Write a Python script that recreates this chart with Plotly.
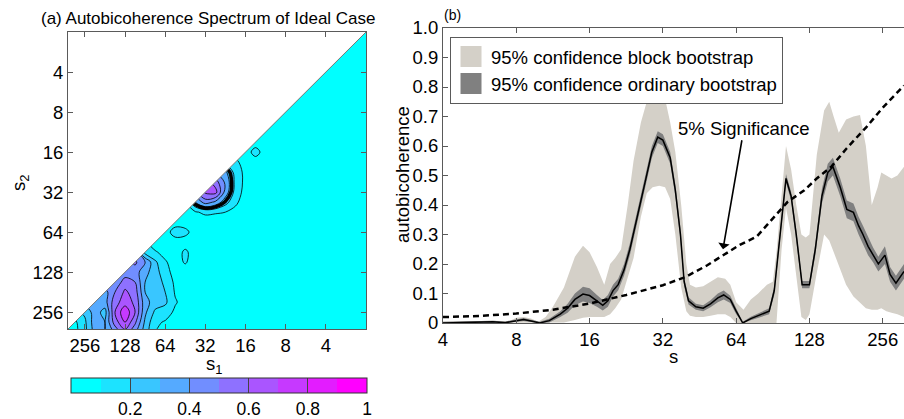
import numpy as np
import plotly.graph_objects as go

# ---------------- Panel (b): autobicoherence along the diagonal ----------------
# x positions are read as log2(scale) exponents
mean_exp = [2.0, 2.3, 2.5, 2.68, 2.85, 3.0, 3.1, 3.2, 3.32, 3.45, 3.6, 3.7, 3.8, 3.91,
            4.0, 4.1, 4.18, 4.25, 4.32, 4.39, 4.47, 4.55, 4.62, 4.7, 4.76, 4.85, 4.93,
            5.0, 5.1, 5.17, 5.24, 5.29, 5.35, 5.45, 5.55, 5.65, 5.75, 5.83, 5.92,
            6.0, 6.09, 6.2, 6.35, 6.45, 6.52, 6.6, 6.68, 6.75, 6.82, 6.9,
            7.0, 7.08, 7.17, 7.25, 7.32, 7.42, 7.51, 7.6, 7.67, 7.73, 7.8, 7.87, 7.94,
            8.03, 8.1, 8.18, 8.22, 8.29]
mean_val = [0.0, 0.001, 0.002, 0.004, 0.001, 0.008, 0.012, 0.007, 0.0, 0.008, 0.03, 0.05, 0.08, 0.098,
            0.093, 0.075, 0.06, 0.075, 0.11, 0.13, 0.18, 0.25, 0.33, 0.42, 0.48, 0.58, 0.63,
            0.62, 0.56, 0.45, 0.3, 0.14, 0.075, 0.055, 0.05, 0.065, 0.085, 0.095, 0.08,
            0.04, 0.0, 0.015, 0.03, 0.04, 0.11, 0.3, 0.49, 0.43, 0.3, 0.13,
            0.13, 0.25, 0.43, 0.51, 0.53, 0.46, 0.385, 0.375, 0.33, 0.3, 0.26, 0.23, 0.2,
            0.23, 0.165, 0.135, 0.15, 0.175]
ord_lo = [0.0, 0.0, 0.0, 0.0, 0.0, 0.004, 0.007, 0.003, 0.0, 0.002, 0.02, 0.035, 0.06, 0.073,
          0.068, 0.055, 0.042, 0.055, 0.09, 0.11, 0.16, 0.23, 0.31, 0.4, 0.46, 0.56, 0.61,
          0.6, 0.54, 0.43, 0.28, 0.125, 0.063, 0.045, 0.04, 0.053, 0.07, 0.08, 0.068,
          0.03, 0.0, 0.009, 0.022, 0.03, 0.095, 0.285, 0.475, 0.415, 0.285, 0.118,
          0.118, 0.23, 0.405, 0.48, 0.5, 0.43, 0.355, 0.345, 0.3, 0.27, 0.23, 0.205, 0.175,
          0.2, 0.14, 0.11, 0.125, 0.15]
ord_hi = [0.004, 0.005, 0.006, 0.008, 0.005, 0.012, 0.017, 0.011, 0.004, 0.014, 0.04, 0.065, 0.1, 0.123,
          0.118, 0.095, 0.078, 0.095, 0.13, 0.15, 0.2, 0.27, 0.35, 0.44, 0.5, 0.6, 0.65,
          0.64, 0.58, 0.47, 0.32, 0.155, 0.087, 0.065, 0.06, 0.077, 0.1, 0.11, 0.092,
          0.05, 0.004, 0.021, 0.038, 0.05, 0.125, 0.315, 0.505, 0.445, 0.315, 0.142,
          0.142, 0.27, 0.455, 0.54, 0.56, 0.49, 0.415, 0.405, 0.36, 0.33, 0.29, 0.255, 0.225,
          0.26, 0.19, 0.16, 0.175, 0.2]

block_exp = [2.0, 2.5, 2.7, 2.9, 3.0, 3.1, 3.2, 3.3, 3.4, 3.5, 3.65, 3.8, 3.91,
             4.0, 4.1, 4.2, 4.28, 4.35, 4.43, 4.52, 4.6, 4.7, 4.78, 4.86, 4.95,
             5.03, 5.1, 5.17, 5.25, 5.32, 5.37, 5.45, 5.55, 5.65, 5.75, 5.85, 5.92,
             6.0, 6.1, 6.2, 6.3, 6.42, 6.5, 6.55, 6.62, 6.68, 6.75, 6.82, 6.89, 6.95,
             7.0, 7.1, 7.2, 7.27, 7.33, 7.4, 7.5, 7.6, 7.69, 7.77, 7.85, 7.93, 7.98,
             8.05, 8.12, 8.2, 8.29]
block_hi = [0.004, 0.006, 0.008, 0.006, 0.018, 0.02, 0.015, 0.004, 0.02, 0.055, 0.12, 0.225, 0.262,
            0.24, 0.19, 0.13, 0.2, 0.22, 0.25, 0.4, 0.55, 0.68, 0.75, 0.77, 0.775,
            0.76, 0.68, 0.58, 0.4, 0.2, 0.13, 0.12, 0.125, 0.14, 0.155, 0.15, 0.13,
            0.07, 0.045, 0.08, 0.1, 0.13, 0.14, 0.24, 0.45, 0.6, 0.52, 0.4, 0.3, 0.29,
            0.3, 0.57, 0.72, 0.75, 0.7, 0.645, 0.69, 0.7, 0.705, 0.6, 0.4, 0.46, 0.51,
            0.5, 0.49, 0.5, 0.53]
block_lo = [0.0, 0.0, 0.0, 0.0, 0.0, 0.002, 0.0, 0.0, 0.0, 0.0, 0.002, 0.01, 0.018,
            0.02, 0.02, 0.02, 0.03, 0.05, 0.08, 0.15, 0.22, 0.36, 0.44, 0.46, 0.465,
            0.46, 0.42, 0.3, 0.12, 0.04, 0.025, 0.02, 0.02, 0.025, 0.03, 0.03, 0.02,
            0.0, 0.0, 0.0, 0.0, 0.0, 0.0, 0.0, 0.25, 0.39, 0.3, 0.15, 0.02, 0.01,
            0.03, 0.17, 0.3, 0.28, 0.24, 0.19, 0.13, 0.09, 0.07, 0.05, 0.045, 0.045, 0.05,
            0.04, 0.035, 0.03, 0.02]

sig_exp = [2.0, 2.5, 3.0, 3.5, 4.0, 4.5, 5.0, 5.3, 5.6, 5.85, 6.05, 6.28, 6.5, 6.7,
           6.93, 7.1, 7.3, 7.5, 7.78, 8.0, 8.29]
sig_val = [0.02, 0.024, 0.032, 0.045, 0.066, 0.095, 0.128, 0.155, 0.195, 0.235, 0.265, 0.293,
           0.355, 0.41, 0.45, 0.49, 0.53, 0.59, 0.665, 0.73, 0.805]

yticks_b = [0, 0.1, 0.2, 0.3, 0.4, 0.5, 0.6, 0.7, 0.8, 0.9, 1.0]
yticktext_b = ["0", "0.1", "0.2", "0.3", "0.4", "0.5", "0.6", "0.7", "0.8", "0.9", "1.0"]
scale_ticks = [4, 8, 16, 32, 64, 128, 256]

# ---------------- Panel (a): autobicoherence spectrum (s1, s2) ----------------
grid_exp = [1.0 + 0.25 * k for k in range(31)]     # log2 grid of scales
background = 0.05
# readings (log2 s1, log2 s2, value) for s2 >= s1; the rest is background
blob_s1_exp = [3.75,
               4.0, 4.0, 4.0, 4.0,
               4.25, 4.25, 4.25, 4.25, 4.25, 4.25,
               4.5, 4.5, 4.5, 4.5, 4.5,
               4.75, 4.75, 4.75, 4.75,
               5.0, 5.0, 5.0,
               5.25, 5.25, 5.5,
               5.5, 5.75, 5.5, 5.5,
               6.0, 6.25, 6.5,
               5.75, 6.0, 6.25, 6.5, 6.75,
               5.75, 6.0, 6.25, 6.5, 6.75, 7.0,
               5.75, 6.0, 6.25, 6.5, 6.75, 7.0, 7.25,
               5.75, 6.0, 6.25, 6.5, 6.75, 7.0, 7.25, 7.5,
               5.5, 5.75, 6.0, 6.25, 6.5, 6.75, 7.0, 7.25, 7.5, 7.75,
               5.75, 6.0, 6.25, 6.5, 6.75, 7.0, 7.25, 7.5, 7.75, 8.0,
               6.0, 6.25, 6.5, 6.75, 7.0, 7.25, 7.5, 7.75, 8.0, 8.25,
               6.0, 6.25, 6.5, 6.75, 7.0, 7.25, 7.5, 7.75, 8.0, 8.25]
blob_s2_exp = [4.0,
               4.25, 4.5, 4.75, 5.0,
               4.25, 4.5, 4.75, 5.0, 5.25, 5.5,
               4.5, 4.75, 5.0, 5.25, 5.5,
               4.75, 5.0, 5.25, 5.5,
               5.0, 5.25, 5.5,
               5.25, 5.5, 5.5,
               6.0, 6.0, 6.5, 6.75,
               6.5, 6.5, 6.5,
               6.75, 6.75, 6.75, 6.75, 6.75,
               7.0, 7.0, 7.0, 7.0, 7.0, 7.0,
               7.25, 7.25, 7.25, 7.25, 7.25, 7.25, 7.25,
               7.5, 7.5, 7.5, 7.5, 7.5, 7.5, 7.5, 7.5,
               7.75, 7.75, 7.75, 7.75, 7.75, 7.75, 7.75, 7.75, 7.75, 7.75,
               8.0, 8.0, 8.0, 8.0, 8.0, 8.0, 8.0, 8.0, 8.0, 8.0,
               8.25, 8.25, 8.25, 8.25, 8.25, 8.25, 8.25, 8.25, 8.25, 8.25,
               8.5, 8.5, 8.5, 8.5, 8.5, 8.5, 8.5, 8.5, 8.5, 8.5]
blob_val = [0.14,
            0.06, 0.07, 0.07, 0.06,
            0.12, 0.16, 0.17, 0.16, 0.12, 0.07,
            0.32, 0.38, 0.36, 0.24, 0.1,
            0.55, 0.64, 0.38, 0.11,
            0.62, 0.45, 0.12,
            0.3, 0.09, 0.07,
            0.13, 0.15, 0.12, 0.11,
            0.07, 0.11, 0.16,
            0.06, 0.11, 0.22, 0.4, 0.52,
            0.07, 0.13, 0.25, 0.33, 0.45, 0.44,
            0.08, 0.17, 0.27, 0.3, 0.5, 0.55, 0.42,
            0.09, 0.2, 0.27, 0.3, 0.55, 0.62, 0.5, 0.36,
            0.06, 0.11, 0.22, 0.25, 0.34, 0.58, 0.65, 0.56, 0.36, 0.3,
            0.08, 0.15, 0.18, 0.32, 0.6, 0.78, 0.6, 0.26, 0.35, 0.22,
            0.09, 0.12, 0.28, 0.52, 0.7, 0.55, 0.3, 0.36, 0.18, 0.08,
            0.08, 0.1, 0.25, 0.42, 0.56, 0.42, 0.3, 0.34, 0.17, 0.07]
level_ticks = [0.2, 0.4, 0.6, 0.8, 1.0]
level_text = ["0.2", "0.4", "0.6", "0.8", "1"]

# ---------------- build ----------------
FONT = "Liberation Sans, Arial, Helvetica, sans-serif"
W, H = 904, 419
AX_COL = "#5a5a5a"

lookup = {(round(a, 2), round(b, 2)): v for a, b, v in zip(blob_s1_exp, blob_s2_exp, blob_val)}
z = []
for v2 in grid_exp:
    row = []
    for u1 in grid_exp:
        a, b = (u1, v2) if v2 >= u1 else (v2, u1)   # bicoherence is symmetric
        row.append(lookup.get((round(a, 2), round(b, 2)), background))
    z.append(row)
grid_s = [2 ** e for e in grid_exp]

# sub grid around the s~32 peak for the bold significance contour
sub_idx = [i for i, e in enumerate(grid_exp) if 3.5 <= e <= 6.0]
sub_s = [grid_s[i] for i in sub_idx]
sub_z = [[z[j][i] for i in sub_idx] for j in sub_idx]

a_lo, a_hi = 1.0, 8.42          # log2 range of panel (a) axes
b_lo, b_hi = 2.0, 8.29          # log2 range of panel (b) x axis

fig = go.Figure()

# filled bands (carry the colorbar)
fig.add_trace(go.Contour(
    x=grid_s, y=grid_s, z=z, xaxis="x", yaxis="y",
    colorscale=[[0, "rgb(0,255,255)"], [1, "rgb(255,0,255)"]],
    zmin=0, zmax=1,
    autocontour=False,
    contours=dict(start=0.1, end=0.9, size=0.1, coloring="fill", showlines=False),
    line=dict(width=0, smoothing=1),
    colorbar=dict(orientation="h", x=219 / W, xanchor="center", y=41 / H, yanchor="top",
                  len=296, lenmode="pixels", thickness=15, xpad=0, ypad=0,
                  outlinewidth=1, outlinecolor="#333",
                  tickvals=level_ticks, ticktext=level_text,
                  ticks="inside", ticklen=15, tickwidth=1, tickcolor="#444",
                  tickfont=dict(size=17.5, family=FONT, color="black")),
    showscale=True, showlegend=False, hoverinfo="skip",
))
# thin contour lines
fig.add_trace(go.Contour(
    x=grid_s, y=grid_s, z=z, xaxis="x", yaxis="y",
    autocontour=False,
    contours=dict(start=0.1, end=0.9, size=0.1, coloring="none", showlines=True),
    line=dict(color="black", width=0.8, smoothing=1),
    showscale=False, showlegend=False, hoverinfo="skip",
))
# bold significance contour around the s~32 peak
fig.add_trace(go.Contour(
    x=sub_s, y=sub_s, z=sub_z, xaxis="x", yaxis="y",
    autocontour=False,
    contours=dict(start=0.25, end=0.25, size=1, coloring="none"),
    line=dict(color="black", width=3.5, smoothing=1),
    showscale=False, showlegend=False, hoverinfo="skip",
))
# mask the redundant half (s2 < s1)
fig.add_trace(go.Scatter(
    x=[2 ** (a_lo - 0.5), 2 ** (a_hi + 0.5), 2 ** (a_hi + 0.5), 2 ** (a_lo - 0.5)],
    y=[2 ** (a_lo - 0.5), 2 ** (a_hi + 0.5), 2 ** (a_lo - 0.5), 2 ** (a_lo - 0.5)],
    fill="toself", fillcolor="white", mode="none", xaxis="x", yaxis="y",
    showlegend=False, hoverinfo="skip",
))
fig.add_trace(go.Scatter(
    x=[2 ** a_lo, 2 ** a_hi], y=[2 ** a_lo, 2 ** a_hi], mode="lines",
    line=dict(color="#777", width=1), xaxis="x", yaxis="y",
    showlegend=False, hoverinfo="skip",
))

# panel (b)
block_s = [2 ** e for e in block_exp]
mean_s = [2 ** e for e in mean_exp]
sig_s = [2 ** e for e in sig_exp]
LIGHT = "rgb(212,208,200)"
DARK = "rgb(128,128,128)"
fig.add_trace(go.Scatter(x=block_s, y=block_lo, mode="lines", line=dict(width=0),
                         xaxis="x2", yaxis="y2", showlegend=False, hoverinfo="skip"))
fig.add_trace(go.Scatter(x=block_s, y=block_hi, mode="lines", line=dict(width=0),
                         fill="tonexty", fillcolor=LIGHT,
                         xaxis="x2", yaxis="y2", showlegend=False, hoverinfo="skip"))
fig.add_trace(go.Scatter(x=mean_s, y=ord_lo, mode="lines", line=dict(width=0),
                         xaxis="x2", yaxis="y2", showlegend=False, hoverinfo="skip"))
fig.add_trace(go.Scatter(x=mean_s, y=ord_hi, mode="lines", line=dict(width=0),
                         fill="tonexty", fillcolor=DARK,
                         xaxis="x2", yaxis="y2", showlegend=False, hoverinfo="skip"))
fig.add_trace(go.Scatter(x=mean_s, y=mean_val, mode="lines", line=dict(color="black", width=1.5),
                         xaxis="x2", yaxis="y2", showlegend=False))
fig.add_trace(go.Scatter(x=sig_s, y=sig_val, mode="lines",
                         line=dict(color="black", width=2.5, dash="6px,4px"),
                         xaxis="x2", yaxis="y2", showlegend=False))
# legend entries
fig.add_trace(go.Scatter(x=[None], y=[None], mode="markers", xaxis="x2", yaxis="y2",
                         marker=dict(symbol="square", size=16, color=LIGHT, line=dict(color=LIGHT, width=5)),
                         name="95% confidence block bootstrap"))
fig.add_trace(go.Scatter(x=[None], y=[None], mode="markers", xaxis="x2", yaxis="y2",
                         marker=dict(symbol="square", size=16, color=DARK, line=dict(color=DARK, width=5)),
                         name="95% confidence ordinary bootstrap"))

axis_common = dict(showline=True, linecolor=AX_COL, linewidth=1, mirror="ticks",
                   ticks="inside", ticklen=5, tickcolor=AX_COL, showgrid=False, zeroline=False,
                   tickfont=dict(size=18.5, family=FONT, color="black"))

fig.update_layout(
    width=W, height=H, margin=dict(l=0, r=0, t=0, b=0, autoexpand=False),
    paper_bgcolor="white", plot_bgcolor="white",
    font=dict(family=FONT, size=18.5, color="black"),
    xaxis=dict(axis_common, type="log", domain=[68 / W, 366 / W], anchor="y",
               range=[np.log10(2 ** a_hi), np.log10(2 ** a_lo)],
               tickvals=scale_ticks[::-1], ticktext=[str(t) for t in scale_ticks[::-1]]),
    yaxis=dict(axis_common, type="log", domain=[1 - 329 / H, 1 - 32 / H], anchor="x",
               range=[np.log10(2 ** a_hi), np.log10(2 ** a_lo)],
               tickvals=scale_ticks, ticktext=[str(t) for t in scale_ticks]),
    xaxis2=dict(axis_common, type="log", domain=[443 / W, 1.0], anchor="y2",
                range=[np.log10(2 ** b_lo), np.log10(2 ** b_hi)],
                tickvals=scale_ticks, ticktext=[str(t) for t in scale_ticks]),
    yaxis2=dict(axis_common, domain=[1 - 323 / H, 1 - 28 / H], anchor="x2", mirror=False,
                range=[0, 1], tickvals=yticks_b, ticktext=yticktext_b),
    legend=dict(x=450 / W, y=1 - 37 / H, xanchor="left", yanchor="top", traceorder="normal",
                bgcolor="white", bordercolor=AX_COL, borderwidth=1,
                font=dict(size=18.5, family=FONT), tracegroupgap=0, itemwidth=30),
    showlegend=True,
)

def label(text, px, py, size=18.5, angle=0, xanchor="center"):
    return dict(text=text, x=px / W, y=1 - py / H, xref="paper", yref="paper",
                xanchor=xanchor, yanchor="middle", showarrow=False, textangle=angle,
                font=dict(size=size))

ann = [
    label("(a) Autobicoherence Spectrum of Ideal Case", 208, 19, size=17),
    label("s<sub>1</sub>", 214, 365),
    label("s<sub>2</sub>", 20, 183, angle=-90),
    label("(b)", 442, 15, size=14, xanchor="left"),
    label("s", 673, 356),
    label("autobicoherence", 402, 175, angle=-90),
    dict(text="5% Significance", x=np.log10(2 ** 5.82), y=0.25, xref="x2", yref="y2",
         ax=21, ay=-121, showarrow=True, arrowhead=1, arrowsize=1.2, arrowwidth=1.6,
         arrowcolor="black", font=dict(size=18.5)),
]
fig.update_layout(annotations=ann)

fig.write_html("out.html")
